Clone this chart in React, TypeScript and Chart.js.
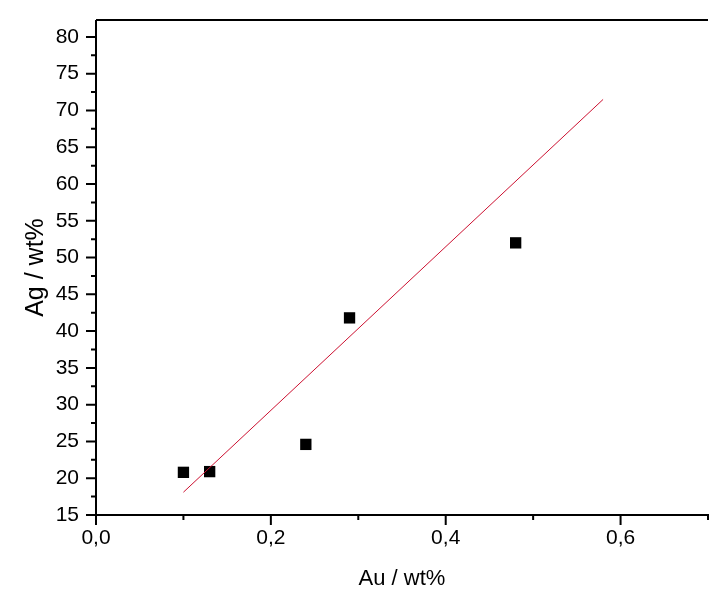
import { useEffect, useRef } from "react";
import Chart from "chart.js/auto";

// measured points
const auValues = [0.1, 0.13, 0.24, 0.29, 0.48];
const agValues = [20.8, 20.9, 24.6, 41.8, 52.0];

// fitted line end points
const fitAu = [0.1, 0.58];
const fitAg = [18.1, 71.5];

const yMajorTicks = [15, 20, 25, 30, 35, 40, 45, 50, 55, 60, 65, 70, 75, 80];
const yMinorTicks = [17.5, 22.5, 27.5, 32.5, 37.5, 42.5, 47.5, 52.5, 57.5, 62.5, 67.5, 72.5, 77.5];
const xMajorTicks = [0, 0.2, 0.4, 0.6];
const xMinorTicks = [0.1, 0.3, 0.5, 0.7];
const xTickLabels = ["0,0", "0,2", "0,4", "0,6"];

const FONT = "'Liberation Sans', Arial, sans-serif";

// frame + outward tick marks, placed by the scales
const framePlugin = {
  id: "frame",
  afterDraw(chart: any) {
    const { ctx, chartArea } = chart;
    const xs = chart.scales.x;
    const ys = chart.scales.y;
    ctx.save();
    ctx.strokeStyle = "#000";
    ctx.lineWidth = 2;
    ctx.beginPath();
    ctx.moveTo(chartArea.left, chartArea.top);
    ctx.lineTo(chartArea.right, chartArea.top);
    ctx.moveTo(chartArea.left, chartArea.top);
    ctx.lineTo(chartArea.left, chartArea.bottom);
    ctx.lineTo(chartArea.right + 1, chartArea.bottom);
    yMajorTicks.forEach((v) => {
      const py = ys.getPixelForValue(v);
      ctx.moveTo(chartArea.left - 10, py);
      ctx.lineTo(chartArea.left, py);
    });
    yMinorTicks.forEach((v) => {
      const py = ys.getPixelForValue(v);
      ctx.moveTo(chartArea.left - 5, py);
      ctx.lineTo(chartArea.left, py);
    });
    xMajorTicks.forEach((v) => {
      const px = xs.getPixelForValue(v);
      ctx.moveTo(px, chartArea.bottom);
      ctx.lineTo(px, chartArea.bottom + 10);
    });
    xMinorTicks.forEach((v) => {
      const px = xs.getPixelForValue(v);
      ctx.moveTo(px, chartArea.bottom);
      ctx.lineTo(px, chartArea.bottom + 5);
    });
    ctx.stroke();
    ctx.restore();
  },
};

export default function App() {
  const canvasRef = useRef<HTMLCanvasElement | null>(null);

  useEffect(() => {
    if (!canvasRef.current) return;
    const ctx = canvasRef.current.getContext("2d");
    if (!ctx) return;

    const chart = new Chart(ctx, {
      type: "scatter",
      data: {
        datasets: [
          {
            label: "fit",
            data: fitAu.map((x, i) => ({ x, y: fitAg[i] })),
            showLine: true,
            borderColor: "#cc1030",
            borderWidth: 1,
            pointRadius: 0,
          },
          {
            label: "Ag",
            data: auValues.map((x, i) => ({ x, y: agValues[i] })),
            pointStyle: "rect",
            pointRadius: 8,
            backgroundColor: "#000",
            borderColor: "#000",
            borderWidth: 0,
          },
        ],
      },
      options: {
        responsive: false,
        animation: false,
        layout: { padding: { top: 20, right: 12, left: 0, bottom: 0 } },
        plugins: {
          legend: { display: false },
          tooltip: { enabled: false },
        },
        scales: {
          x: {
            type: "linear",
            min: 0,
            max: 0.7,
            grid: { display: false, drawTicks: false },
            border: { display: false },
            afterBuildTicks: (s: any) => {
              s.ticks = xMajorTicks.map((value) => ({ value }));
            },
            afterFit: (s: any) => {
              s.height = 82;
              s.paddingLeft = 0;
              s.paddingRight = 0;
            },
            ticks: {
              color: "#000",
              padding: 11,
              maxRotation: 0,
              font: { family: FONT, size: 21 },
              callback: (_v: any, i: number) => xTickLabels[i],
            },
            title: {
              display: true,
              text: "Au / wt%",
              color: "#000",
              font: { family: FONT, size: 22 },
              padding: { top: 5, bottom: 5 },
            },
          },
          y: {
            type: "linear",
            min: 15,
            max: 82.3,
            grid: { display: false, drawTicks: false },
            border: { display: false },
            afterBuildTicks: (s: any) => {
              s.ticks = yMajorTicks.map((value) => ({ value }));
            },
            afterFit: (s: any) => {
              s.width = 96;
              s.paddingTop = 0;
              s.paddingBottom = 0;
            },
            ticks: {
              color: "#000",
              padding: 17,
              font: { family: FONT, size: 21 },
            },
            title: {
              display: true,
              text: "Ag / wt%",
              color: "#000",
              font: { family: FONT, size: 25 },
              padding: { top: 21, bottom: 21 },
            },
          },
        },
      },
      plugins: [framePlugin],
    });

    return () => chart.destroy();
  }, []);

  return (
    <div style={{ position: "fixed", left: 0, top: 0, width: 720, height: 597, background: "#fff" }}>
      <canvas ref={canvasRef} width={720} height={597}></canvas>
    </div>
  );
}
